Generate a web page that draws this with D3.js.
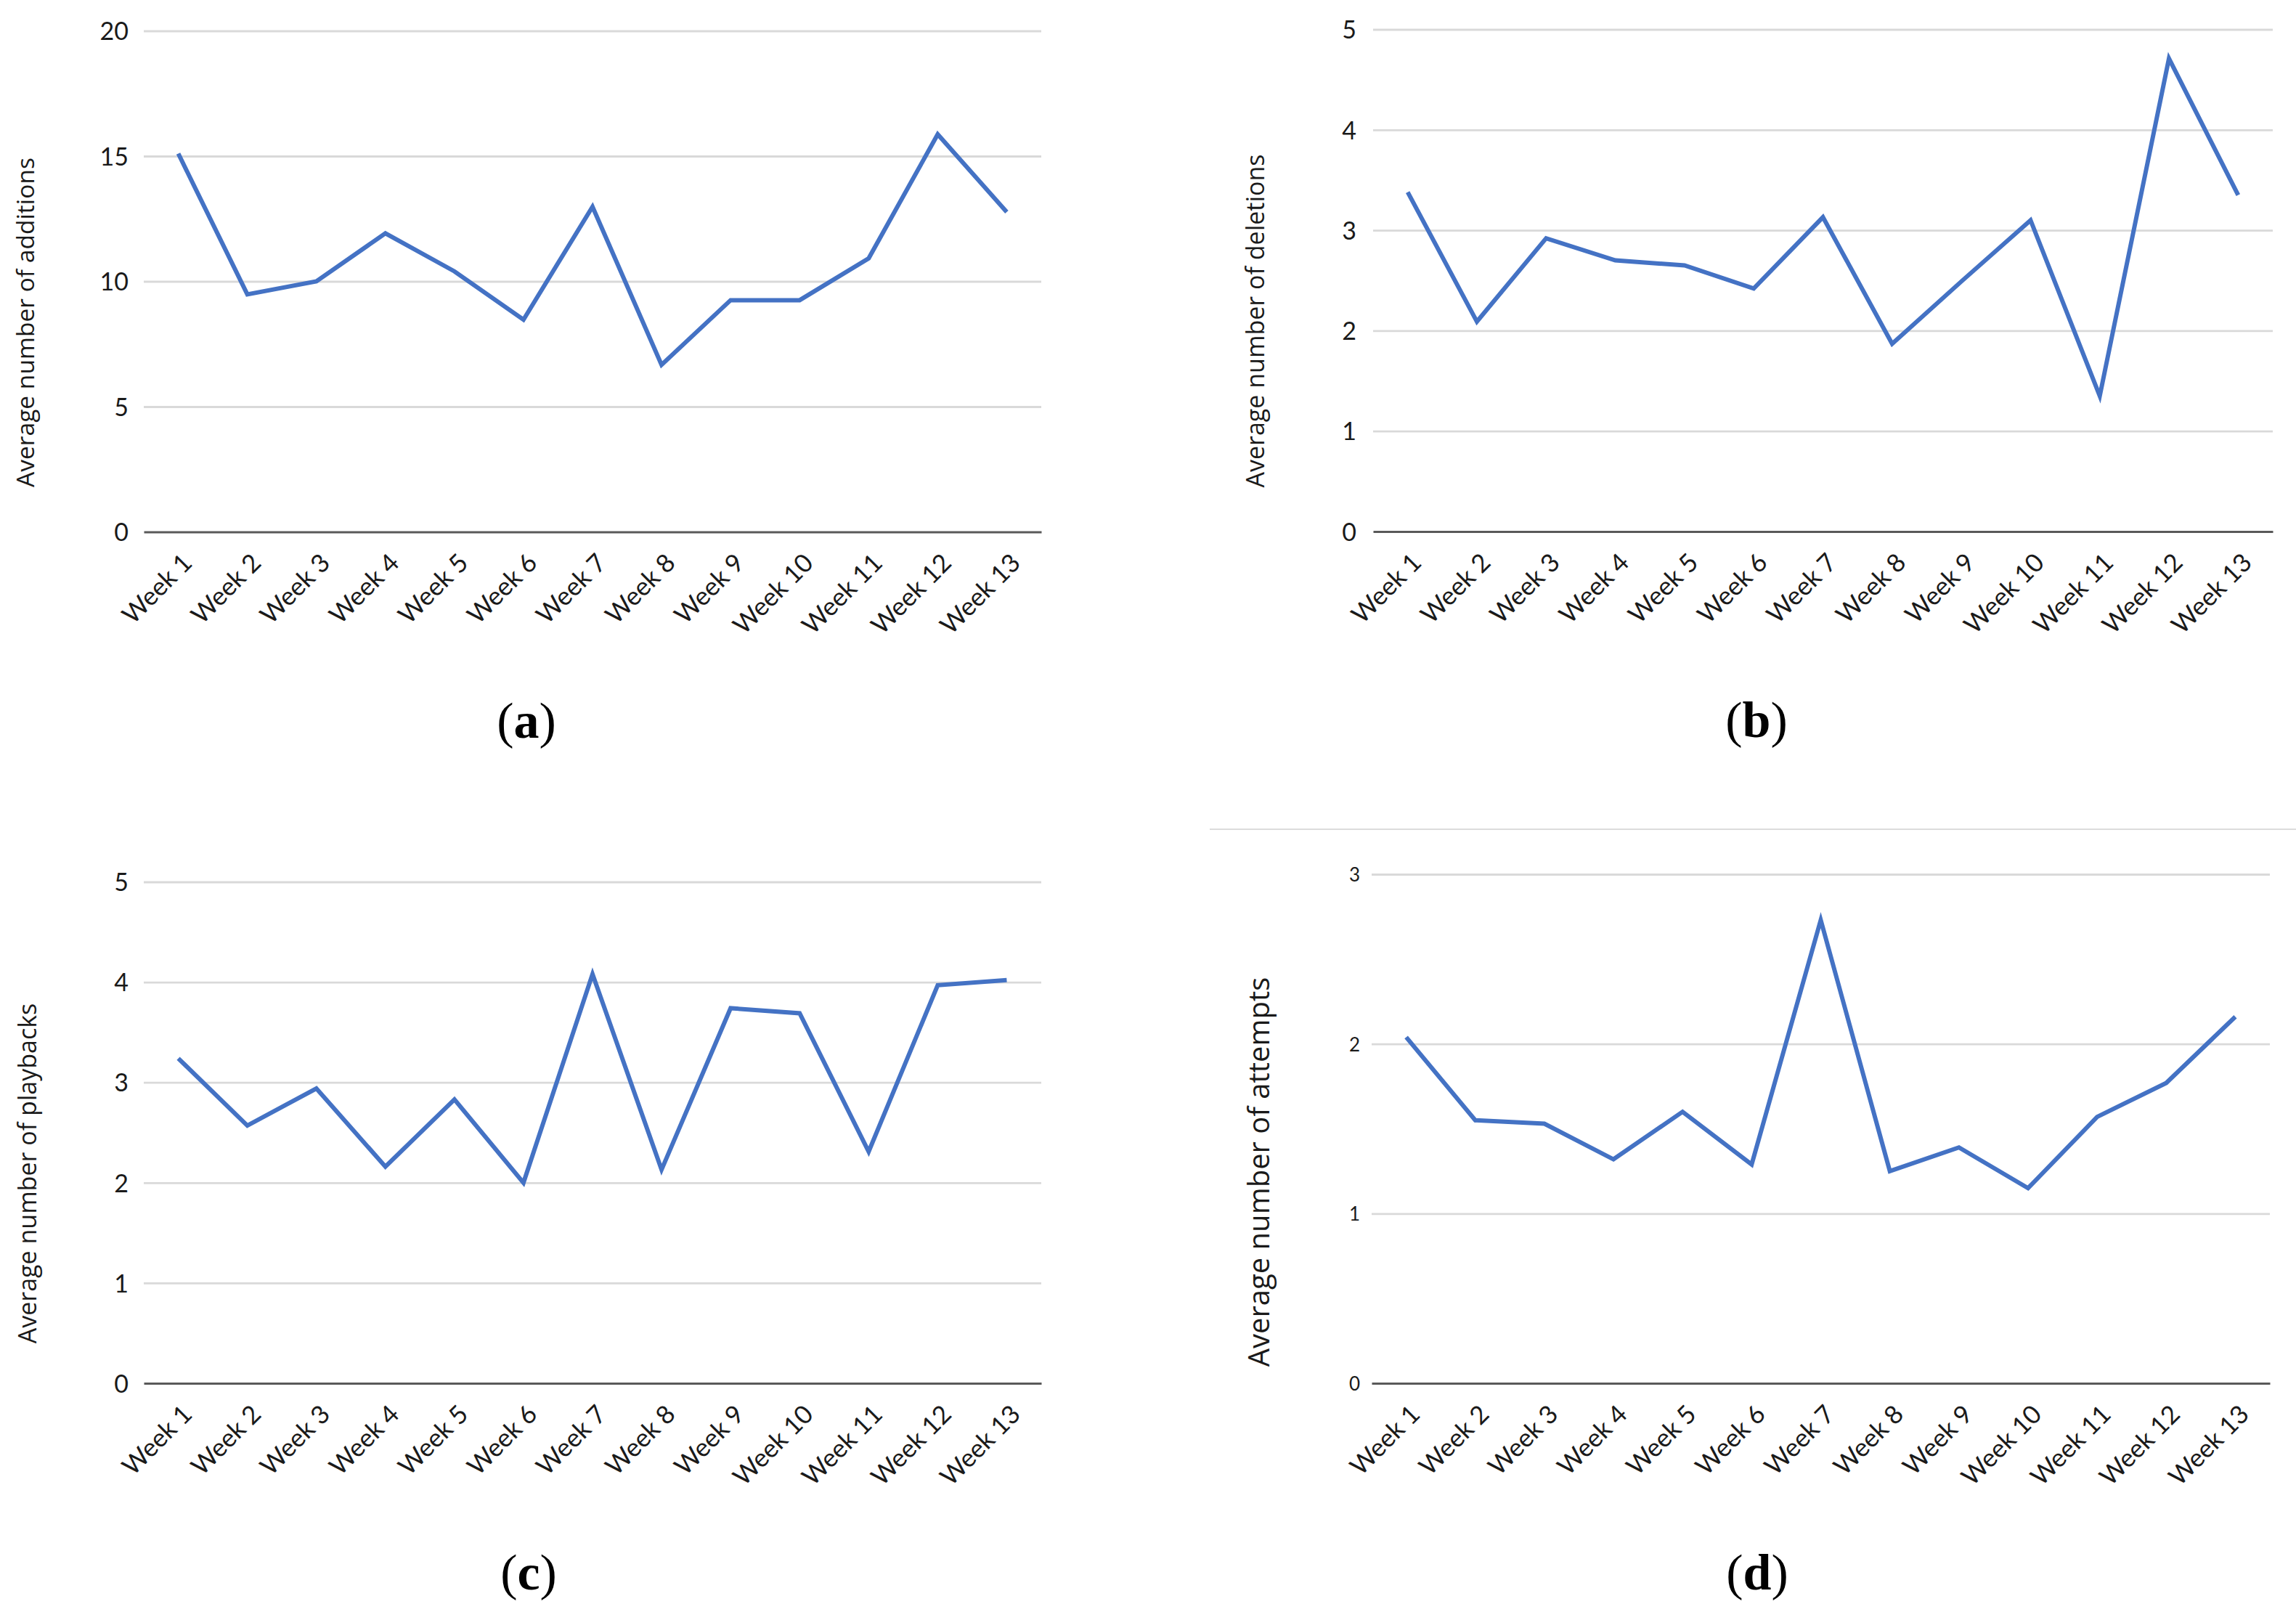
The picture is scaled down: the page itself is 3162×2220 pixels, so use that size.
<!DOCTYPE html>
<html>
<head>
<meta charset="utf-8">
<script src="https://cdn.jsdelivr.net/npm/d3@7"></script>
<style>
  html, body { margin: 0; padding: 0; background: #ffffff; }
  svg { display: block; }
</style>
</head>
<body>
<script>
// ---------------- data ----------------
const weeks = ["Week 1","Week 2","Week 3","Week 4","Week 5","Week 6","Week 7",
               "Week 8","Week 9","Week 10","Week 11","Week 12","Week 13"];
const additions = [15.1, 9.48, 10.0, 11.92, 10.4, 8.47, 12.98, 6.67, 9.25, 9.25, 10.92, 15.87, 12.77];
const deletions = [3.38, 2.09, 2.92, 2.70, 2.65, 2.42, 3.13, 1.87, 2.49, 3.10, 1.35, 4.71, 3.35];
const playbacks = [3.24, 2.57, 2.94, 2.16, 2.83, 2.00, 4.08, 2.13, 3.74, 3.69, 2.31, 3.97, 4.02];
const attempts  = [2.04, 1.55, 1.53, 1.32, 1.60, 1.29, 2.73, 1.25, 1.39, 1.15, 1.57, 1.77, 2.16];

const ticksA = [0, 5, 10, 15, 20];
const ticksB = [0, 1, 2, 3, 4, 5];
const ticksC = [0, 1, 2, 3, 4, 5];
const ticksD = [0, 1, 2, 3];

const titles = ["Average number of additions", "Average number of deletions",
                "Average number of playbacks", "Average number of attempts"];
const captions = ["a", "b", "c", "d"];

// ---------------- layout ----------------
const W = 3162, H = 2220;
const svg = d3.select("body").append("svg").attr("width", W).attr("height", H);
svg.append("rect").attr("width", W).attr("height", H).attr("fill", "#ffffff");

const panels = [
  { values: additions, ticks: ticksA, title: titles[0], cap: captions[0],
    left: 198, right: 1434, top: 42.5, bottom: 732.5, tickSize: 34, tickGap: 21,
    titleX: 47, titleY: 444, titleSize: 33.5, capX: 725, capY: 1016 },
  { values: deletions, ticks: ticksB, title: titles[1], cap: captions[1],
    left: 1891, right: 3130, top: 40.5, bottom: 732, tickSize: 34, tickGap: 23,
    titleX: 1740.5, titleY: 442, titleSize: 34, capX: 2419, capY: 1015 },
  { values: playbacks, ticks: ticksC, title: titles[2], cap: captions[2],
    left: 198, right: 1434, top: 1214.5, bottom: 1905, tickSize: 34, tickGap: 21,
    titleX: 49.5, titleY: 1616, titleSize: 34, capX: 728, capY: 2189 },
  { values: attempts, ticks: ticksD, title: titles[3], cap: captions[3],
    left: 1889, right: 3126, top: 1204, bottom: 1905, tickSize: 26, tickGap: 16,
    titleX: 1747.5, titleY: 1614, titleSize: 40, capX: 2420, capY: 2189 }
];

// separator line above panel (d)
svg.append("line")
  .attr("x1", 1666).attr("x2", W).attr("y1", 1142).attr("y2", 1142)
  .attr("stroke", "#d0d0d0").attr("stroke-width", 1.5);

panels.forEach(p => {
  const g = svg.append("g");
  const x = d3.scaleBand().domain(weeks).range([p.left, p.right]).padding(0);
  const y = d3.scaleLinear().domain([0, d3.max(p.ticks)]).range([p.bottom, p.top]);

  // gridlines via axis
  const yAxis = d3.axisLeft(y).tickValues(p.ticks).tickSize(-(p.right - p.left)).tickPadding(p.tickGap).tickFormat(d3.format("d"));
  const ya = g.append("g").attr("transform", `translate(${p.left},0)`).call(yAxis);
  ya.select(".domain").remove();
  ya.selectAll(".tick line")
    .attr("stroke", d => d === 0 ? "none" : "#d9d9d9")
    .attr("stroke-width", 2.8);
  ya.selectAll(".tick text")
    .attr("font-family", "Lato, 'Open Sans', sans-serif")
    .attr("font-size", p.tickSize)
    .attr("fill", "#1a1a1a")
    .attr("dy", "0.36em");

  // x axis
  const xAxis = d3.axisBottom(x).tickSize(0).tickPadding(0);
  const xa = g.append("g").attr("transform", `translate(0,${p.bottom})`).call(xAxis);
  xa.select(".domain").attr("stroke", "#595959").attr("stroke-width", 3);
  xa.selectAll(".tick text")
    .attr("font-family", "Lato, 'Open Sans', sans-serif")
    .attr("font-size", 35)
    .attr("fill", "#1a1a1a")
    .attr("text-anchor", "end")
    .attr("dy", null)
    .attr("y", null)
    .attr("transform", "translate(21,45) rotate(-45)");

  // line
  const line = d3.line()
    .x((d, i) => x(weeks[i]) + x.bandwidth() / 2)
    .y(d => y(d));
  g.append("path")
    .datum(p.values)
    .attr("d", line)
    .attr("fill", "none")
    .attr("stroke", "#4472C4")
    .attr("stroke-width", 6)
    .attr("stroke-linejoin", "miter")
    .attr("stroke-linecap", "butt");

  // y title
  g.append("text")
    .attr("transform", `translate(${p.titleX},${p.titleY}) rotate(-90)`)
    .attr("text-anchor", "middle")
    .attr("font-family", "'Open Sans', sans-serif")
    .attr("font-size", p.titleSize)
    .attr("fill", "#1a1a1a")
    .text(p.title);

  // caption
  const c = g.append("text")
    .attr("x", p.capX).attr("y", p.capY)
    .attr("text-anchor", "middle")
    .attr("font-family", "'Liberation Serif', 'Times New Roman', serif")
    .attr("font-size", 70)
    .attr("fill", "#000000");
  c.append("tspan").text("(");
  c.append("tspan").attr("font-weight", "bold").text(p.cap);
  c.append("tspan").text(")");
});
</script>
</body>
</html>
